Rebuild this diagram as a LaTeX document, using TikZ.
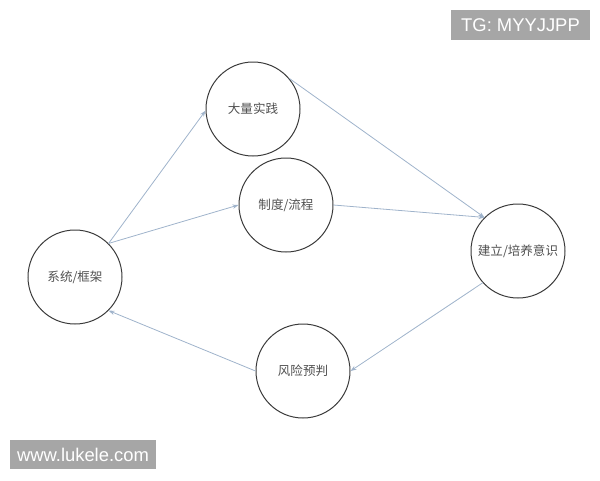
\documentclass[tikz,border=0pt]{standalone}
\usepackage{fontspec}
\newfontfamily\cjk{Noto Sans CJK SC}
\newfontfamily\wmfont{Liberation Sans}
\usetikzlibrary{arrows.meta}
\definecolor{circ}{HTML}{3A3A3A}
\definecolor{arr}{HTML}{9FB3CB}
\definecolor{txt}{HTML}{505050}
\definecolor{wm}{HTML}{A6A6A6}
\tikzset{
  bubble/.style={circle,draw=circ,line width=0.75pt,minimum size=70.5pt,inner sep=0pt,
    font=\cjk\fontsize{9.4pt}{11pt}\selectfont,text=txt},
  link/.style={draw=arr,line width=0.6pt,-{Stealth[length=4.5pt,width=3.2pt]}},
  mark box/.style={fill=wm,text=white,inner sep=0pt,font=\wmfont\fontsize{13.8pt}{16pt}\selectfont}
}
\begin{document}
\begin{tikzpicture}[x=0.75pt,y=-0.75pt]
\useasboundingbox (0,0) rectangle (600,480);
\node[bubble] (big) at (253,109) {大量实践};
\node[bubble] (zhi) at (286,205) {制度/流程};
\node[bubble] (sys) at (75,277) {系统/框架};
\node[bubble] (est) at (518,251) {建立/培养意识};
\node[bubble] (risk) at (303,371) {风险预判};
\draw[link] (sys.45) -- (big.182);
\draw[link] (sys.45) -- (zhi.180);
\draw[link] (big.40) -- (est.135);
\draw[link] (zhi.0) -- (est.135);
\draw[link] (est.222) -- (risk.0);
\draw[link] (risk.180) -- (sys.-45);
\node[mark box,minimum width=104.25pt,minimum height=22.5pt] (tg) at (520.5,25) {TG: MYYJJPP};
\node[mark box,minimum width=109.5pt,minimum height=21.75pt] (www) at (83,454.5) {www.lukele.com};
\end{tikzpicture}
\end{document}
